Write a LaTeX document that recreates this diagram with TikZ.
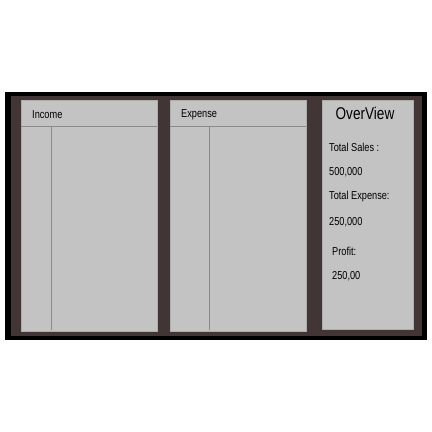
\documentclass[tikz,border=0pt]{standalone}
\usepackage{fontspec}
\setmainfont{Liberation Sans}[FakeStretch=0.8]

\begin{document}
\begin{tikzpicture}[x=1pt,y=-1pt]
    % Define board colors
    \definecolor{boardbrown}{RGB}{65, 53, 53}
    \definecolor{sheetgrey}{RGB}{195, 195, 195}
    \definecolor{rulegrey}{RGB}{138, 138, 138}
    \tikzset{
        sheet/.style={fill=sheetgrey, draw=rulegrey!70, line width=0.5pt},
        ruling/.style={draw=rulegrey, line width=0.6pt},
        entry/.style={anchor=west, inner sep=0pt, font=\fontsize{11.5}{12}\selectfont}
    }
    \useasboundingbox (0,0) rectangle (432,432);

    % Black frame and brown board
    \fill[black] (5,92) rectangle (427,340);
    \fill[boardbrown] (11,96) rectangle (422,336);

    % Ledger sheets with header and column line
    \foreach \xa/\xb/\col/\head/\nm in {21/157/51/Income/income, 170/306/209/Expense/expense} {
        \fill[sheet] (\xa,100.5) rectangle (\xb,331);
        \draw[ruling] (\xa,126) -- (\xb,126);
        \draw[ruling] (\col,126) -- (\col,330);
        \node[entry] (\nm) at (\xa+11,115) {\head};
    }

    % Overview sheet
    \fill[sheet] (322,100) rectangle (413,329);
    \node[inner sep=0pt, font=\fontsize{17}{18}\selectfont] (overview) at (365,113) {OverView};
    \node[entry] (salestitle) at (329,147) {Total Sales :};
    \node[entry] (sales) at (329,172) {500,000};
    \node[entry] (expensetitle) at (329,197) {Total Expense:};
    \node[entry] (expense) at (329,222) {250,000};
    \node[entry] (profittitle) at (332,251) {Profit:};
    \node[entry] (profit) at (332,276) {250,00};

\end{tikzpicture}
\end{document}
